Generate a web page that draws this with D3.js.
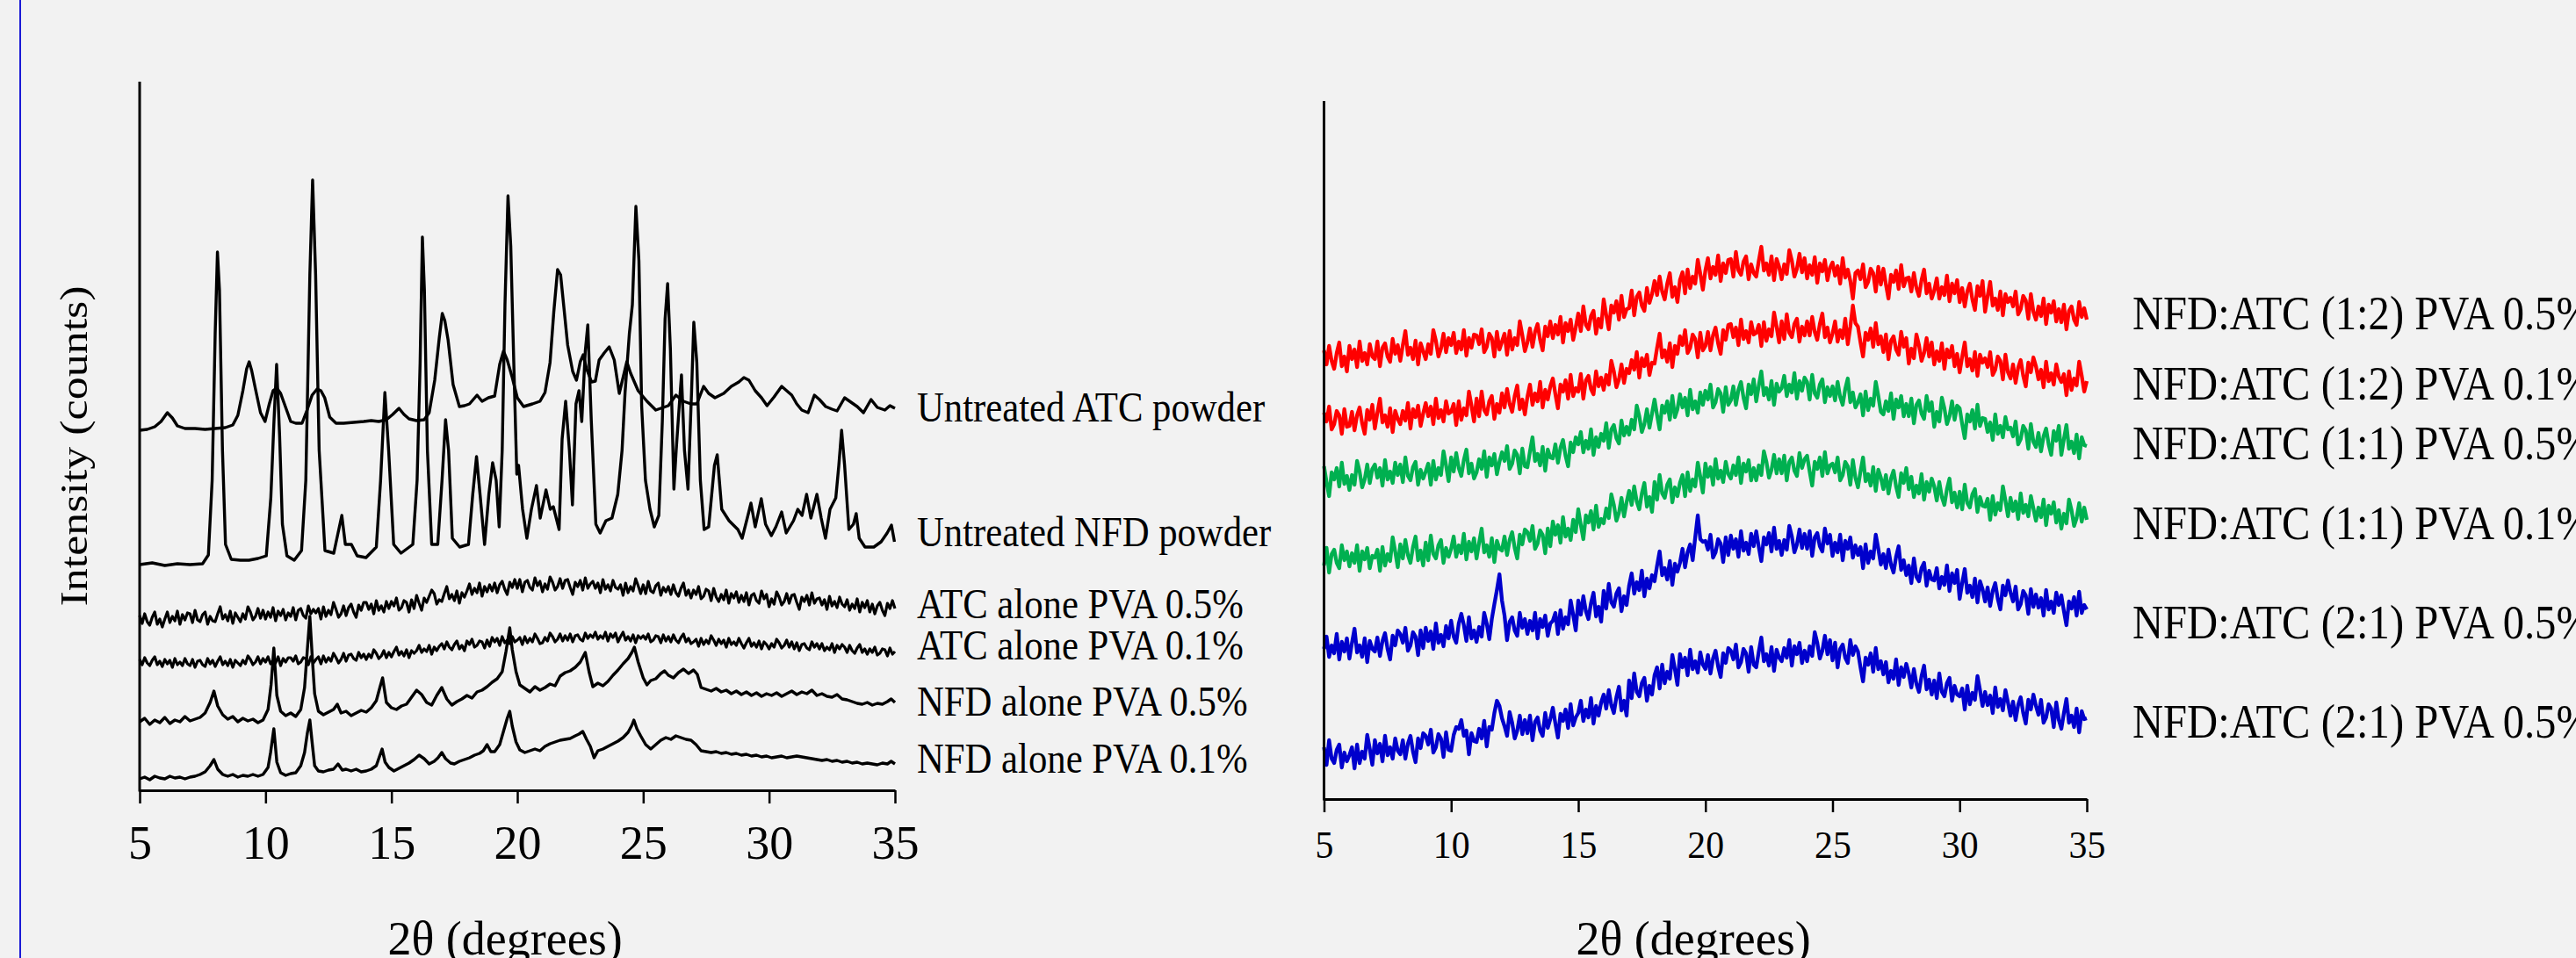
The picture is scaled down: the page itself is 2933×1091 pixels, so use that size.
<!DOCTYPE html>
<html><head><meta charset="utf-8">
<script src="https://cdn.jsdelivr.net/npm/d3@7"></script>
<style>
html,body{margin:0;padding:0;background:#f2f2f2;}
svg{display:block;}
text{font-family:"Liberation Serif","Times New Roman",serif;fill:#000;}
</style></head><body>
<svg id="chart" width="2933" height="1091"></svg>
<script>
// ---------------- DATA ----------------
const xTicks = [5, 10, 15, 20, 25, 30, 35];
// regular 0.1 degree sampling of 2theta used by the amorphous patterns
const thetaStep01 = d3.range(0, 301).map(i => +(5 + i * 0.1).toFixed(1));

const leftNames = ["Untreated ATC powder", "Untreated NFD powder", "ATC alone PVA 0.5%",
  "ATC alone PVA 0.1%", "NFD alone PVA 0.5%", "NFD alone PVA 0.1%"];
const rightNames = ["NFD:ATC (1:2) PVA 0.5%", "NFD:ATC (1:2) PVA 0.1%", "NFD:ATC (1:1) PVA 0.5%",
  "NFD:ATC (1:1) PVA 0.1%", "NFD:ATC (2:1) PVA 0.5%", "NFD:ATC (2:1) PVA 0.5%"];

// Left panel (offset intensities, arbitrary counts) — [2theta, intensity]
const untreatedATC = [[5.0,410],[5.3,411],[5.6,414],[5.85,420],[6.1,430],[6.3,424],[6.5,415],[6.8,412],[7.2,412],[7.6,411],[8.0,412],[8.4,413],[8.7,416],[8.9,427],[9.1,455],[9.25,480],[9.35,488],[9.45,478],[9.6,457],[9.8,430],[9.98,420],[10.15,440],[10.3,455],[10.45,458],[10.6,452],[10.75,440],[11.0,420],[11.2,418],[11.45,418],[11.65,433],[11.85,450],[12.05,457],[12.2,455],[12.35,447],[12.55,425],[12.8,418],[13.1,418],[13.5,419],[13.9,420],[14.2,421],[14.5,420],[14.8,422],[15.05,428],[15.3,435],[15.5,428],[15.7,423],[16.0,421],[16.3,422],[16.5,430],[16.72,467],[16.9,515],[17.02,543],[17.12,535],[17.25,513],[17.45,462],[17.7,437],[17.9,438],[18.1,440],[18.4,450],[18.6,443],[18.85,447],[19.1,449],[19.3,485],[19.45,500],[19.6,490],[19.8,470],[20.0,447],[20.25,437],[20.6,440],[20.9,443],[21.1,453],[21.3,487],[21.45,545],[21.6,593],[21.72,587],[21.85,550],[22.0,507],[22.2,477],[22.35,467],[22.5,488],[22.62,496],[22.75,480],[22.95,465],[23.1,466],[23.25,490],[23.45,498],[23.65,505],[23.85,490],[24.05,452],[24.2,470],[24.35,488],[24.5,475],[24.8,455],[25.15,443],[25.5,433],[25.8,436],[26.0,438],[26.3,450],[26.6,443],[26.9,440],[27.13,440],[27.4,460],[27.6,452],[27.85,447],[28.2,452],[28.5,460],[28.8,465],[29.0,470],[29.2,467],[29.45,455],[29.7,447],[29.92,438],[30.2,448],[30.5,460],[30.7,455],[30.9,450],[31.1,440],[31.3,433],[31.55,430],[31.8,450],[32.0,445],[32.25,437],[32.5,434],[32.7,432],[33.0,447],[33.2,443],[33.5,437],[33.75,430],[34.05,445],[34.3,436],[34.6,433],[34.8,438],[35.0,435]];

const untreatedNFD = [[5.0,257],[5.5,259],[6.0,256],[6.5,258],[7.0,257],[7.5,258],[7.73,268],[7.88,353],[8.0,520],[8.09,613],[8.17,570],[8.29,387],[8.41,280],[8.64,263],[9.0,262],[9.34,262],[9.7,264],[10.03,267],[10.21,333],[10.33,417],[10.44,485],[10.56,403],[10.67,303],[10.85,267],[11.14,262],[11.43,273],[11.6,353],[11.76,587],[11.87,695],[11.99,587],[12.13,387],[12.36,273],[12.71,270],[12.88,293],[13.03,313],[13.17,280],[13.41,280],[13.64,267],[13.99,265],[14.4,277],[14.57,353],[14.74,453],[14.89,387],[15.09,280],[15.38,270],[15.85,280],[16.02,353],[16.14,487],[16.23,630],[16.31,570],[16.43,387],[16.6,280],[16.84,280],[17.01,353],[17.15,422],[17.27,387],[17.42,287],[17.71,277],[18.06,280],[18.23,337],[18.38,380],[18.52,337],[18.7,280],[18.87,337],[19.02,373],[19.16,353],[19.28,300],[19.4,387],[19.51,553],[19.63,677],[19.74,620],[19.86,487],[19.98,360],[20.05,370],[20.21,320],[20.38,287],[20.56,320],[20.76,347],[20.91,310],[21.14,342],[21.31,320],[21.43,323],[21.66,297],[21.78,400],[21.92,443],[22.07,387],[22.19,325],[22.33,440],[22.45,455],[22.56,420],[22.7,500],[22.8,530],[22.94,420],[23.12,303],[23.29,293],[23.52,307],[23.76,310],[23.99,337],[24.16,387],[24.28,453],[24.45,520],[24.57,553],[24.71,665],[24.83,603],[24.94,437],[25.09,353],[25.27,320],[25.44,300],[25.62,313],[25.76,420],[25.87,537],[25.97,577],[26.08,503],[26.22,343],[26.31,387],[26.43,437],[26.52,473],[26.64,387],[26.78,343],[26.92,453],[27.01,533],[27.13,487],[27.27,353],[27.42,297],[27.6,300],[27.83,370],[27.94,382],[28.12,320],[28.41,307],[28.76,297],[28.93,287],[29.16,313],[29.28,327],[29.45,300],[29.69,332],[29.86,303],[30.09,290],[30.27,300],[30.5,317],[30.68,293],[30.97,307],[31.14,320],[31.31,313],[31.49,337],[31.66,310],[31.9,337],[32.07,310],[32.24,287],[32.42,320],[32.65,333],[32.77,370],[32.88,410],[33.0,370],[33.17,297],[33.35,303],[33.46,315],[33.58,287],[33.81,277],[34.16,277],[34.45,283],[34.69,293],[34.86,302],[34.98,283]];

// one value per 0.1 degree from 5 to 35
const atcAlone05 = [
199,190,201,192,188,197,203,189,195,186, 195,203,191,198,193,204,189,200,194,202,
201,191,205,194,192,200,203,189,198,193, 192,201,209,195,200,193,204,190,202,197,
192,201,195,209,203,194,198,207,196,205, 195,203,197,208,193,204,199,206,194,202,
198,208,194,205,207,199,196,210,201,206, 202,207,195,209,198,205,200,214,206,197,
201,210,199,208,212,203,197,211,205,214, 214,206,212,201,216,205,210,203,215,207,
215,210,219,205,208,216,214,203,217,207, 222,213,205,219,214,221,228,224,212,217,
215,224,232,218,223,216,227,213,225,220, 227,235,223,230,225,236,221,232,226,234,
227,236,225,234,238,229,223,237,231,240, 230,240,226,237,239,231,228,242,233,238,
226,235,229,243,237,228,232,241,230,239, 240,231,223,237,232,239,228,242,230,235,
238,230,236,225,240,229,234,227,239,231, 229,234,222,236,225,232,227,241,233,224,
234,224,238,227,225,233,236,222,231,226, 232,223,234,225,221,230,236,222,228,219,
228,223,232,218,221,229,227,216,230,220, 215,223,217,228,213,224,219,226,214,222,
215,225,211,222,224,216,213,227,218,223, 209,218,212,226,220,211,215,224,213,222,
223,214,206,220,215,222,211,225,213,218, 219,211,217,206,221,210,215,208,220,212,
209,217,205,212,207,218,203,214,208,216, 203,212,201,210,214,205,199,213,207,216,
207];

const atcAlone01 = [
149,143,151,145,142,148,152,143,147,141, 149,144,148,140,150,143,146,142,150,144,
142,149,140,147,148,143,141,150,144,148, 141,147,152,143,147,142,149,140,148,145,
142,148,144,153,149,143,146,152,144,150, 146,152,144,148,145,152,142,150,146,151,
151,147,153,144,146,151,150,143,152,145, 149,152,144,153,146,151,147,156,151,145,
149,156,147,154,155,150,148,157,151,155, 149,155,151,160,156,150,153,159,151,157,
152,158,163,154,158,153,160,151,159,156, 159,165,157,161,158,165,155,163,159,164,
167,161,169,163,160,166,170,161,165,159, 170,166,172,163,165,170,169,162,171,164,
174,169,173,165,175,168,171,167,175,169, 171,174,166,175,168,173,169,178,173,167,
168,174,170,179,175,169,172,178,170,176, 171,178,169,176,177,172,170,179,173,177,
174,180,172,176,173,180,170,178,174,179, 169,175,180,171,175,170,177,168,176,173,
176,172,178,169,171,176,175,168,177,170, 175,169,177,171,168,174,178,169,173,167,
169,172,164,173,166,171,167,176,171,165, 172,167,171,163,173,166,169,165,173,167,
162,168,173,164,168,163,170,161,169,166, 161,167,163,172,168,162,165,171,163,169,
161,168,159,166,167,162,160,169,163,167, 161,167,159,163,160,167,157,165,161,166,
163,157,165,159,156,162,166,157,161,155, 161,157,163,154,156,161,160,153,162,155,
158];

const nfdAlone05 = [[5.0,78],[5.2,82],[5.4,75],[5.6,80],[5.8,77],[6.0,83],[6.2,76],[6.4,80],[6.6,78],[6.8,84],[7.0,79],[7.2,81],[7.4,83],[7.6,88],[7.8,100],[7.95,113],[8.1,96],[8.3,86],[8.5,81],[8.7,84],[8.9,78],[9.1,82],[9.3,79],[9.5,81],[9.7,77],[9.9,80],[10.1,92],[10.22,120],[10.33,162],[10.45,108],[10.6,90],[10.8,85],[11.0,88],[11.2,84],[11.4,92],[11.55,117],[11.66,160],[11.76,198],[11.86,150],[11.95,110],[12.1,90],[12.3,86],[12.5,89],[12.7,92],[12.85,98],[13.0,88],[13.2,90],[13.4,85],[13.6,88],[13.8,91],[14.0,89],[14.2,94],[14.4,102],[14.55,118],[14.65,128],[14.8,100],[15.0,94],[15.2,92],[15.4,96],[15.6,98],[15.8,106],[16.0,114],[16.2,109],[16.4,100],[16.6,97],[16.8,108],[17.0,117],[17.2,104],[17.4,97],[17.6,101],[17.8,104],[18.0,108],[18.2,105],[18.4,112],[18.6,114],[18.8,118],[19.0,123],[19.2,127],[19.4,135],[19.55,158],[19.7,185],[19.8,160],[19.95,135],[20.1,120],[20.3,116],[20.5,112],[20.7,118],[20.9,114],[21.1,117],[21.3,121],[21.5,119],[21.7,130],[21.9,134],[22.1,136],[22.3,140],[22.5,146],[22.7,157],[22.85,135],[23.0,118],[23.2,122],[23.4,119],[23.6,124],[23.8,131],[24.0,137],[24.2,144],[24.4,150],[24.55,157],[24.65,163],[24.8,146],[25.0,128],[25.15,120],[25.3,125],[25.5,127],[25.7,133],[25.85,136],[26.0,131],[26.2,128],[26.4,134],[26.6,138],[26.8,133],[27.0,137],[27.15,132],[27.3,117],[27.5,115],[27.7,113],[27.9,116],[28.1,112],[28.3,114],[28.5,110],[28.7,113],[28.9,109],[29.1,112],[29.3,108],[29.5,111],[29.7,107],[29.9,110],[30.1,108],[30.3,111],[30.5,107],[30.7,110],[30.9,113],[31.1,109],[31.3,112],[31.5,110],[31.7,114],[31.9,108],[32.1,110],[32.3,107],[32.5,106],[32.7,109],[32.9,104],[33.1,103],[33.3,101],[33.5,99],[33.7,98],[33.9,100],[34.1,97],[34.3,99],[34.5,98],[34.7,101],[34.85,104],[35.0,100]];

const nfdAlone01 = [[5.0,13],[5.2,15],[5.4,12],[5.6,16],[5.8,14],[6.0,13],[6.2,16],[6.4,14],[6.6,15],[6.8,13],[7.0,15],[7.2,16],[7.4,18],[7.6,21],[7.8,28],[7.95,35],[8.1,24],[8.3,18],[8.5,16],[8.7,18],[8.9,15],[9.1,17],[9.3,16],[9.5,18],[9.7,16],[9.9,18],[10.1,26],[10.2,43],[10.33,70],[10.45,32],[10.6,20],[10.8,17],[11.0,19],[11.2,20],[11.4,28],[11.55,43],[11.66,65],[11.76,80],[11.86,52],[11.95,28],[12.1,22],[12.3,21],[12.5,23],[12.7,24],[12.88,30],[13.05,23],[13.2,24],[13.4,22],[13.6,24],[13.8,21],[14.0,22],[14.2,24],[14.4,28],[14.52,38],[14.63,47],[14.75,32],[14.9,26],[15.1,22],[15.3,25],[15.5,28],[15.7,31],[15.9,35],[16.1,40],[16.3,36],[16.5,30],[16.7,33],[16.85,37],[17.0,43],[17.15,36],[17.35,31],[17.5,30],[17.7,33],[17.9,35],[18.1,37],[18.3,40],[18.5,42],[18.65,45],[18.8,52],[18.95,44],[19.1,44],[19.3,52],[19.45,67],[19.6,82],[19.7,90],[19.8,73],[19.95,55],[20.1,46],[20.3,43],[20.5,45],[20.7,47],[20.9,45],[21.1,50],[21.3,53],[21.5,55],[21.7,57],[21.9,58],[22.1,59],[22.3,62],[22.45,64],[22.6,67],[22.75,58],[22.9,50],[23.05,37],[23.2,45],[23.4,47],[23.6,50],[23.8,53],[24.0,56],[24.2,60],[24.4,66],[24.55,74],[24.63,80],[24.75,70],[24.9,62],[25.1,52],[25.3,47],[25.5,52],[25.7,57],[25.9,60],[26.1,58],[26.3,62],[26.5,60],[26.7,58],[26.9,57],[27.1,52],[27.3,45],[27.5,44],[27.7,43],[27.9,44],[28.1,42],[28.3,43],[28.5,41],[28.7,42],[28.9,40],[29.1,41],[29.3,39],[29.5,40],[29.7,38],[29.9,39],[30.1,37],[30.3,38],[30.5,39],[30.7,37],[30.9,38],[31.1,39],[31.3,38],[31.5,37],[31.7,36],[31.9,35],[32.1,34],[32.3,35],[32.5,33],[32.7,34],[32.9,32],[33.1,33],[33.3,31],[33.5,32],[33.7,30],[33.9,31],[34.1,30],[34.3,29],[34.5,31],[34.7,30],[34.85,33],[35.0,30]];

// Right panel (offset intensities, one value per 0.1 degree from 5 to 35)
const ratio12pva05 = [
511,495,516,499,490,508,520,493,504,487, 516,501,512,492,521,499,508,495,518,504,
501,521,493,514,519,504,498,524,507,517, 499,517,533,506,514,501,522,495,519,510,
501,518,507,534,522,504,513,530,509,525, 517,531,508,521,512,534,505,525,514,529,
528,518,535,509,515,530,525,504,532,512, 521,530,506,533,512,525,517,544,528,510,
520,536,515,532,541,523,511,538,527,544, 525,540,529,549,520,542,533,546,523,537,
553,533,561,540,535,550,556,530,547,537, 569,551,535,562,554,567,546,573,549,558,
559,579,551,572,577,562,556,582,565,575, 590,574,595,578,569,587,599,572,583,566,
591,600,576,603,582,595,587,614,598,580, 602,616,593,606,597,619,590,610,599,614,
615,595,623,602,597,612,618,592,609,599, 595,613,629,602,610,597,618,591,615,606,
592,609,598,625,613,595,604,621,600,616, 593,608,597,617,588,610,601,614,591,605,
611,596,607,587,616,594,603,590,570,599, 602,592,609,583,589,604,599,578,606,586,
604,586,570,597,589,602,581,608,584,593, 594,578,599,582,573,591,603,576,587,570,
579,593,570,583,574,596,567,587,576,591, 566,582,561,578,587,569,557,584,573,590,
555,573,589,562,570,557,578,551,575,566, 571,561,578,552,558,573,568,547,575,555,
546,561,550,570,541,563,554,567,544,558, 543,563,535,556,561,546,540,566,549,559,
546];

const ratio12pva01 = [
440,430,447,421,427,442,437,416,444,424, 425,441,420,437,446,428,416,443,432,449,
422,440,456,429,437,424,445,418,442,433, 427,442,431,451,422,444,435,448,425,439,
451,436,447,427,456,434,443,430,453,439, 441,450,426,453,432,445,437,464,448,430,
456,436,464,443,438,453,459,433,450,440, 462,446,467,450,441,459,471,444,455,438,
458,472,449,462,453,475,446,466,455,470, 479,461,445,472,464,477,456,483,459,468,
464,484,456,477,482,467,461,487,470,480, 466,483,472,499,487,469,478,495,474,490,
485,500,489,509,480,502,493,506,483,497, 496,514,530,503,511,498,519,492,516,507,
527,517,534,508,514,529,524,503,531,511, 516,532,511,528,537,519,507,534,523,540,
541,526,537,517,546,524,533,520,543,529, 531,540,516,543,522,535,527,554,538,520,
544,524,552,531,526,541,547,521,538,528, 544,528,549,532,523,541,553,526,537,520,
530,544,521,534,525,547,518,538,562,542, 538,520,504,531,523,536,515,542,518,527,
509,529,501,522,527,512,506,532,515,525, 496,513,502,529,517,499,508,525,504,520,
495,510,499,519,490,512,503,516,493,507, 486,504,520,493,501,488,509,482,506,497,
502,492,509,483,489,504,499,478,506,486, 479,495,474,491,500,482,470,497,486,503,
493,478,489,469,498,476,485,472,495,481, 475,484,460,487,466,479,471,498,482,464,
476];

const ratio11pva05 = [
379,361,345,372,364,377,356,383,359,368, 352,369,358,385,373,355,364,381,360,376,
381,366,377,357,386,364,373,360,383,369, 381,361,389,368,363,378,384,358,375,365,
373,382,358,385,364,377,369,396,380,362, 389,373,394,377,368,386,398,371,382,365,
372,387,376,396,367,389,380,393,370,384, 395,385,402,376,382,397,392,371,399,379,
378,396,412,385,393,380,401,374,398,389, 388,404,383,400,409,391,379,406,395,412,
404,418,395,408,399,421,392,412,401,416, 408,428,400,421,426,411,405,431,414,424,
415,432,421,448,436,418,427,444,423,439, 455,437,421,448,440,453,432,459,435,444,
461,446,457,437,466,444,453,440,463,449, 465,455,472,446,452,467,462,441,469,449,
454,470,449,466,475,457,445,472,461,478, 453,471,487,460,468,455,476,449,473,464,
468,482,459,472,463,485,456,476,465,480, 475,455,483,462,457,472,478,452,469,459,
470,454,475,458,449,467,479,452,463,446, 452,461,437,464,443,456,448,475,459,441,
438,453,442,462,433,455,446,459,436,450, 436,456,428,449,454,439,433,459,442,452,
424,441,430,457,445,427,436,453,432,448, 445,427,411,438,430,443,422,449,425,434,
433,418,429,409,438,416,425,412,435,421, 423,413,430,404,410,425,420,399,427,407,
401,417,396,413,422,404,392,419,408,425, 392,410,426,399,407,394,415,388,412,403,
402];

const ratio11pva01 = [
266,286,258,279,284,269,263,289,272,282, 265,280,269,289,260,282,273,286,263,277,
275,284,260,287,266,279,271,298,282,264, 290,274,295,278,269,287,299,272,283,266,
292,272,300,279,274,289,295,269,286,276, 285,299,276,289,280,302,273,293,282,297,
274,292,308,281,289,276,297,270,294,285, 283,299,278,295,304,286,274,301,290,307,
304,294,311,285,291,306,301,280,308,288, 316,301,312,292,321,299,308,295,318,304,
330,312,296,323,315,328,307,334,310,319, 314,331,320,347,335,317,326,343,322,338,
351,335,356,339,330,348,360,333,344,327, 361,341,369,348,343,358,364,338,355,345,
360,369,345,372,351,364,356,383,367,349, 382,367,378,358,387,365,374,361,384,370,
365,380,369,389,360,382,373,386,363,377, 363,380,369,396,384,366,375,392,371,387,
371,391,363,384,389,374,368,394,377,387, 391,373,357,384,376,389,368,395,371,380,
382,372,389,363,369,384,379,358,386,366, 355,373,389,362,370,357,378,351,375,366,
353,369,348,365,374,356,344,371,360,377, 353,367,344,357,348,370,341,361,350,365,
356,340,361,344,335,353,365,338,349,332, 350,330,358,337,332,347,353,327,344,334,
333,342,318,345,324,337,329,356,340,322, 343,328,339,319,348,326,335,322,345,331,
317,332,321,341,312,334,325,338,315,329, 308,325,314,341,329,311,320,337,316,332,
318];

const ratio21pva05a = [
171,185,162,175,166,188,159,179,168,183, 160,178,194,167,175,162,183,156,180,171,
168,184,163,180,189,171,159,186,175,192, 188,178,195,169,175,190,185,164,192,172,
195,180,191,171,200,178,187,174,197,183, 203,185,178,200,211,198,180,207,183,192,
179,196,185,212,200,182,205,222,238,256, 226,209,181,202,207,192,186,212,195,205,
188,203,192,212,183,205,196,209,186,200, 203,212,188,215,194,207,199,226,210,192,
226,210,231,214,205,223,235,208,219,202, 237,217,245,224,219,234,240,214,231,221,
243,257,234,247,238,260,231,251,240,255, 248,266,282,255,263,250,271,244,268,259,
269,285,264,281,290,272,298,323,296,293, 294,284,301,275,281,296,291,270,298,278,
300,285,296,276,305,283,292,279,302,288, 305,287,271,298,290,303,282,309,285,294,
278,295,284,311,299,281,290,307,286,302, 285,305,277,298,303,288,282,308,291,301,
277,292,281,301,272,294,285,298,275,289, 278,287,263,290,269,282,274,301,285,267,
279,263,284,267,258,276,288,261,272,255, 266,246,274,253,248,263,269,243,260,250,
249,263,240,253,244,266,237,257,246,261, 228,246,262,235,243,230,251,224,248,239,
225,241,220,237,246,228,216,243,232,249, 235,225,242,216,222,237,232,211,239,219,
233,218,229,209,238,216,225,212,235,221, 232,214,198,225,217,230,209,236,212,221,
216];

const ratio21pva05b = [
59,39,67,46,41,56,62,36,53,43, 50,59,35,62,41,54,46,73,57,39,
67,52,63,43,72,50,59,46,69,55, 51,67,46,63,72,54,42,69,58,75,
72,62,79,53,59,74,69,48,76,56, 55,73,82,80,90,72,78,51,75,66,
65,80,69,89,60,82,79,98,112,106, 92,83,72,99,87,69,78,95,74,90,
75,95,67,88,93,78,72,98,81,91, 104,86,70,97,89,102,81,108,84,93,
98,112,89,102,93,115,86,106,95,110, 119,103,124,107,98,116,128,101,112,95,
135,115,143,122,117,132,138,112,129,119, 141,150,126,153,132,145,137,164,148,130,
165,150,161,141,170,148,157,144,167,153, 148,164,143,160,169,151,139,166,155,172,
169,159,176,150,156,171,166,145,173,153, 150,168,184,157,165,152,173,146,170,161,
157,172,161,181,152,174,165,178,155,169, 157,174,163,190,178,160,169,186,165,181,
158,178,150,171,176,161,155,181,164,174, 168,150,134,161,153,166,145,172,148,157,
142,156,133,146,137,159,130,150,139,154, 143,127,148,131,122,140,152,125,136,119,
135,115,143,122,117,132,138,112,129,119, 117,126,102,129,108,121,113,140,124,106,
122,107,118,98,127,105,114,101,124,110, 95,111,90,107,116,98,86,113,102,119,
106,96,113,87,93,108,103,82,110,90, 80,98,114,87,95,82,103,76,100,91,
92];

// ---------------- CHART ----------------
const svg = d3.select("#chart");

svg.append("rect").attr("width", 2933).attr("height", 1091).attr("fill", "#f2f2f2");
// thin blue frame edge at the far left
svg.append("line").attr("x1", 23).attr("x2", 23).attr("y1", 0).attr("y2", 1091)
  .attr("stroke", "#1a1ad6").attr("stroke-width", 2);

function zip(thetas, vals) { return vals.map((v, i) => [thetas[i], v]); }

function panel(opts) {
  const x = d3.scaleLinear().domain([5, 35]).range([opts.x0, opts.x1]);
  const y = d3.scaleLinear().domain([0, opts.ymax]).range([opts.yBottom, opts.yTop]);
  const g = svg.append("g");
  const line = d3.line().x(d => x(d[0])).y(d => y(d[1]));
  opts.series.forEach(s => {
    g.append("path").datum(s.data).attr("d", line)
      .attr("fill", "none").attr("stroke", s.color)
      .attr("stroke-width", s.lw || opts.lw).attr("stroke-linejoin", "round");
  });
  const ax = g.append("g").attr("transform", `translate(0,${opts.yBottom})`)
    .call(d3.axisBottom(x).tickValues(xTicks).tickFormat(d3.format("d")).tickSize(15).tickSizeOuter(0));
  ax.select(".domain").attr("stroke", "#000").attr("stroke-width", 3);
  ax.selectAll(".tick line").attr("stroke", "#000").attr("stroke-width", 2.5);
  ax.selectAll(".tick text").attr("y", opts.tickDy).attr("dy", "0.71em")
    .attr("font-size", opts.tickFont).attr("font-family", "Liberation Serif")
    .attr("fill", "#000").attr("transform", `scale(${opts.tickSx},1)`);
  g.append("line").attr("x1", opts.x0).attr("x2", opts.x0)
    .attr("y1", opts.yTop).attr("y2", opts.yBottom + 1.5)
    .attr("stroke", "#000").attr("stroke-width", 3);
  g.append("text").attr("text-anchor", "middle")
    .attr("transform", `translate(${opts.titleX},1087)`)
    .attr("font-size", 54).text("2θ (degrees)");
  opts.labels.forEach((t, i) => {
    g.append("text").attr("transform", `translate(${opts.labelX},${opts.labelY[i] + opts.labelDy}) scale(${opts.labelSx},1)`)
      .attr("font-size", opts.labelFont).text(t);
  });
  return { x, y };
}

panel({
  x0: 159, x1: 1019, yBottom: 900, yTop: 93, ymax: 807, lw: 3.4,
  tickDy: 40, tickFont: 54, tickSx: 1, titleX: 575,
  labelX: 1044, labelFont: 48, labelSx: 0.89, labelDy: 15,
  labelY: [465, 607, 689, 736, 800, 865],
  labels: leftNames,
  series: [
    { data: untreatedATC, color: "#000" },
    { data: untreatedNFD, color: "#000" },
    { data: zip(thetaStep01, atcAlone05), color: "#000", lw: 3.2 },
    { data: zip(thetaStep01, atcAlone01), color: "#000", lw: 3.2 },
    { data: nfdAlone05, color: "#000" },
    { data: nfdAlone01, color: "#000" }
  ]
});

panel({
  x0: 1507.5, x1: 2376, yBottom: 910, yTop: 115, ymax: 795, lw: 4.3,
  tickDy: 36, tickFont: 44, tickSx: 0.95, titleX: 1928,
  labelX: 2428, labelFont: 54, labelSx: 0.9, labelDy: 17,
  labelY: [358, 438, 506, 597, 710, 823],
  labels: rightNames,
  series: [
    { data: zip(thetaStep01, ratio12pva05), color: "#ff0000" },
    { data: zip(thetaStep01, ratio12pva01), color: "#ff0000" },
    { data: zip(thetaStep01, ratio11pva05), color: "#00b050" },
    { data: zip(thetaStep01, ratio11pva01), color: "#00b050" },
    { data: zip(thetaStep01, ratio21pva05a), color: "#0000cc" },
    { data: zip(thetaStep01, ratio21pva05b), color: "#0000cc" }
  ]
});

svg.append("text").attr("text-anchor", "middle")
  .attr("transform", "translate(99,508) rotate(-90) scale(1,0.87)")
  .attr("font-size", 52).text("Intensity (counts)");
</script>
</body></html>
